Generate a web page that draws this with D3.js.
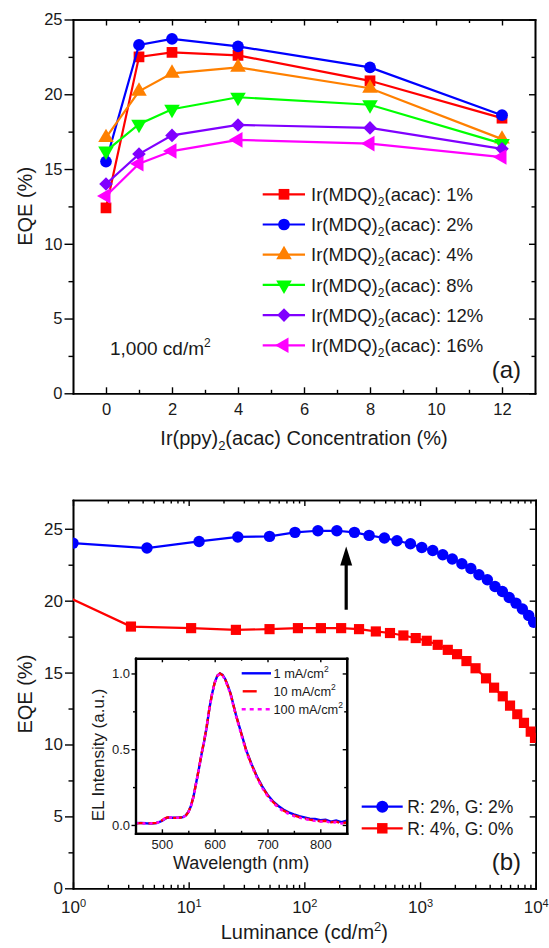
<!DOCTYPE html>
<html><head><meta charset="utf-8">
<script src="https://cdn.jsdelivr.net/npm/d3@7"></script>
<style>body{margin:0;background:#fff}</style>
</head><body><script>
// ---------- DATA ----------
// Panel (a)
const concentration = [0, 1, 2, 4, 8, 12];
const eqeMDQ1  = [12.4, 22.5, 22.8, 22.6, 20.9, 18.4];
const eqeMDQ2  = [15.5, 23.3, 23.7, 23.2, 21.8, 18.6];
const eqeMDQ4  = [17.1, 20.2, 21.4, 21.8, 20.4, 17.0];
const eqeMDQ8  = [16.2, 18.0, 19.0, 19.8, 19.3, 16.7];
const eqeMDQ12 = [14.0, 16.0, 17.25, 17.95, 17.75, 16.35];
const eqeMDQ16 = [13.2, 15.35, 16.2, 16.95, 16.7, 15.8];
const legendA = ["1%", "2%", "4%", "8%", "12%", "16%"];
const xTicksA = [0, 2, 4, 6, 8, 10, 12];
const xMinorA = [1, 3, 5, 7, 9, 11];
const yTicksA = [0, 5, 10, 15, 20, 25];
const yMinorA = [2.5, 7.5, 12.5, 17.5, 22.5];

// Panel (b)
const luminanceR2G2 = [1, 4.36, 12.3, 26.6, 50, 83, 131, 191, 271, 363, 492, 632, 826, 1036, 1288, 1572, 1900, 2300, 2750, 3230, 3820, 4450, 5150, 5900, 6750, 7670, 8700, 9600];
const eqeR2G2 = [24.0, 23.66, 24.12, 24.43, 24.47, 24.75, 24.86, 24.86, 24.75, 24.54, 24.36, 24.17, 23.96, 23.7, 23.49, 23.19, 22.9, 22.57, 22.24, 21.8, 21.45, 20.99, 20.64, 20.22, 19.83, 19.42, 18.97, 18.5];
const luminanceR4G0 = [0.9, 3.17, 10.5, 25.6, 50, 88, 139, 208, 297, 415, 550, 718, 918, 1143, 1422, 1738, 2090, 2520, 3020, 3720, 4370, 5190, 6000, 6930, 7920, 9060, 9860];
const eqeR4G0 = [20.25, 18.2, 18.09, 17.97, 18.02, 18.09, 18.09, 18.09, 18.02, 17.86, 17.75, 17.58, 17.4, 17.21, 16.93, 16.58, 16.28, 15.8, 15.3, 14.6, 13.95, 13.35, 12.7, 12.1, 11.5, 10.9, 10.45];
const legendB = ["R: 2%, G: 2%", "R: 4%, G: 0%"];
const xTicksB = [1, 10, 100, 1000, 10000];
const xMinorB = [2,3,4,5,6,7,8,9,20,30,40,50,60,70,80,90,200,300,400,500,600,700,800,900,2000,3000,4000,5000,6000,7000,8000,9000];
const yTicksB = [0, 5, 10, 15, 20, 25];
const yMinorB = [2.5, 7.5, 12.5, 17.5, 22.5];
const arrowLum = 230, arrowFrom = 19.37, arrowTo = 23.77;

// Inset EL spectra
const wavelength = [450,460,470,480,490,500,505,510,515,520,530,540,545,550,555,560,565,570,575,580,585,590,595,600,605,610,615,620,625,630,640,650,660,670,680,690,700,710,720,730,740,750,760,770,780,790,800,810,820,830,840,850];
const el1mA   = [0.012,0.013,0.011,0.010,0.013,0.026,0.038,0.048,0.050,0.048,0.048,0.052,0.062,0.085,0.125,0.19,0.28,0.37,0.465,0.55,0.65,0.77,0.865,0.94,0.985,1.0,0.99,0.962,0.918,0.868,0.73,0.61,0.49,0.4,0.32,0.255,0.2,0.158,0.127,0.102,0.083,0.07,0.058,0.05,0.042,0.04,0.032,0.034,0.022,0.03,0.018,0.028];
const el10mA  = [0.011,0.012,0.012,0.011,0.014,0.03,0.042,0.05,0.049,0.047,0.047,0.051,0.06,0.084,0.124,0.19,0.28,0.37,0.47,0.555,0.655,0.77,0.865,0.94,0.985,1.0,0.988,0.96,0.915,0.865,0.728,0.607,0.487,0.396,0.316,0.25,0.196,0.153,0.12,0.095,0.078,0.063,0.052,0.045,0.035,0.03,0.025,0.028,0.018,0.022,0.012,0.016];
const el100mA = [0.013,0.011,0.01,0.011,0.013,0.028,0.04,0.049,0.05,0.049,0.048,0.05,0.061,0.083,0.122,0.188,0.278,0.368,0.465,0.553,0.652,0.768,0.862,0.938,0.983,0.998,0.985,0.955,0.91,0.86,0.722,0.6,0.48,0.39,0.31,0.245,0.19,0.148,0.115,0.09,0.073,0.058,0.048,0.04,0.032,0.027,0.022,0.024,0.015,0.018,0.01,0.012];
const legendInset = ["1 mA/cm", "10 mA/cm", "100 mA/cm"];
const xTicksI = [500, 600, 700, 800];
const xMinorI = [550, 650, 750];
const yTicksI = [0, 0.5, 1.0];
const yMinorI = [0.25, 0.75];

// ---------- DRAWING ----------
const FONT = '"Liberation Sans", Arial, Helvetica, sans-serif';
const INK = "#1a1a1a";
const svg = d3.select("body").append("svg").attr("width", 549).attr("height", 948)
  .style("font-family", FONT);

function styleAxis(g, fs) {
  g.attr("font-family", FONT).attr("font-size", fs);
  g.select(".domain").attr("stroke", "#000").attr("stroke-width", 1.6).attr("stroke-linecap", "square");
  g.selectAll(".tick line").attr("stroke", "#000").attr("stroke-width", 1.4);
  g.selectAll(".tick text").attr("fill", INK);
}
function frame(g, x, y, ticksX, minorX, ticksY, minorY, box, opts) {
  const fs = opts.fs, M = opts.major, m = opts.minor, pad = opts.pad;
  const b = g.append("g").attr("transform", `translate(0,${box.b})`)
    .call(d3.axisBottom(x).tickValues(ticksX).tickSizeInner(-M).tickSizeOuter(0).tickPadding(pad.b).tickFormat(opts.fmtX));
  styleAxis(b, fs);
  if (opts.afterX) opts.afterX(b);
  styleAxis(g.append("g").attr("transform", `translate(0,${box.b})`)
    .call(d3.axisBottom(x).tickValues(minorX).tickSizeInner(-m).tickSizeOuter(0).tickFormat("")), fs);
  styleAxis(g.append("g").attr("transform", `translate(0,${box.t})`)
    .call(d3.axisTop(x).tickValues(ticksX).tickSizeInner(-M).tickSizeOuter(0).tickFormat("")), fs);
  styleAxis(g.append("g").attr("transform", `translate(0,${box.t})`)
    .call(d3.axisTop(x).tickValues(minorX).tickSizeInner(-m).tickSizeOuter(0).tickFormat("")), fs);
  styleAxis(g.append("g").attr("transform", `translate(${box.l},0)`)
    .call(d3.axisLeft(y).tickValues(ticksY).tickSizeInner(opts.leftMajor).tickSizeOuter(0).tickPadding(pad.l).tickFormat(opts.fmtY)), fs);
  styleAxis(g.append("g").attr("transform", `translate(${box.l},0)`)
    .call(d3.axisLeft(y).tickValues(minorY).tickSizeInner(opts.leftMinor).tickSizeOuter(0).tickFormat("")), fs);
  styleAxis(g.append("g").attr("transform", `translate(${box.r},0)`)
    .call(d3.axisRight(y).tickValues(ticksY).tickSizeInner(-M).tickSizeOuter(0).tickFormat("")), fs);
  styleAxis(g.append("g").attr("transform", `translate(${box.r},0)`)
    .call(d3.axisRight(y).tickValues(minorY).tickSizeInner(-m).tickSizeOuter(0).tickFormat("")), fs);
}
function marker(g, kind, x, y, color, scale) {
  const s = scale || 1;
  let type = d3.symbolSquare, size = 115, rot = 0;
  if (kind === "circle") { type = d3.symbolCircle; size = 108; }
  if (kind === "triUp") { type = d3.symbolTriangle; size = 105; }
  if (kind === "triDown") { type = d3.symbolTriangle; size = 105; rot = 180; }
  if (kind === "diamond") { type = d3.symbolSquare; size = 92; rot = 45; }
  if (kind === "triLeft") { type = d3.symbolTriangle; size = 105; rot = -90; }
  g.append("path").attr("d", d3.symbol(type, size * s)())
    .attr("transform", `translate(${x},${y}) rotate(${rot})`).attr("fill", color);
}

// ===== Panel (a) =====
const A = {l: 73, r: 535, t: 19.5, b: 393.3};
const xA = d3.scaleLinear([-1, 13], [A.l, A.r]);
const yA = d3.scaleLinear([0, 25], [A.b, A.t]);
const gA = svg.append("g");
frame(gA, xA, yA, xTicksA, xMinorA, yTicksA, yMinorA, A,
  {fs: 16.5, major: 6, minor: 3.5, leftMajor: 8.5, leftMinor: 4.5, pad: {b: 10, l: 2},
   fmtX: d3.format("d"), fmtY: d3.format("d")});

const seriesA = [
  {vals: eqeMDQ1, color: "#ff0000", kind: "square"},
  {vals: eqeMDQ2, color: "#0000ff", kind: "circle"},
  {vals: eqeMDQ4, color: "#ff8000", kind: "triUp"},
  {vals: eqeMDQ8, color: "#00ff00", kind: "triDown"},
  {vals: eqeMDQ12, color: "#8000ff", kind: "diamond"},
  {vals: eqeMDQ16, color: "#ff00ff", kind: "triLeft"}
];
const lineA = d3.line().x(d => xA(d[0])).y(d => yA(d[1]));
seriesA.forEach(s => {
  const pts = concentration.map((c, i) => [c, s.vals[i]]);
  gA.append("path").attr("d", lineA(pts)).attr("fill", "none").attr("stroke", s.color).attr("stroke-width", 2.2);
  pts.forEach(p => marker(gA, s.kind, xA(p[0]), yA(p[1]), s.color));
});
seriesA.forEach((s, i) => {
  const yy = 194.3 + i * 30.2;
  gA.append("line").attr("x1", 262.7).attr("x2", 305).attr("y1", yy).attr("y2", yy)
    .attr("stroke", s.color).attr("stroke-width", 2.2);
  marker(gA, s.kind, 284, yy, s.color);
  const t = gA.append("text").attr("x", 311).attr("y", yy + 6.6).attr("font-size", 18.5).attr("fill", INK);
  t.append("tspan").text("Ir(MDQ)");
  t.append("tspan").attr("font-size", 12).attr("dy", 5).text("2");
  t.append("tspan").attr("dy", -5).text("(acac): " + legendA[i]);
});
{
  const t = gA.append("text").attr("x", 110).attr("y", 355).attr("font-size", 19).attr("fill", INK);
  t.append("tspan").text("1,000 cd/m");
  t.append("tspan").attr("font-size", 12).attr("dy", -8).text("2");
}
gA.append("text").attr("x", 521).attr("y", 378).attr("text-anchor", "end").attr("font-size", 24).attr("fill", INK).text("(a)");
{
  const t = gA.append("text").attr("x", (A.l + A.r) / 2).attr("y", 445).attr("text-anchor", "middle").attr("font-size", 20).attr("fill", INK);
  t.append("tspan").text("Ir(ppy)");
  t.append("tspan").attr("font-size", 13).attr("dy", 5).text("2");
  t.append("tspan").attr("dy", -5).text("(acac) Concentration (%)");
}
gA.append("text").attr("transform", `translate(32,${(A.t + A.b) / 2}) rotate(-90)`).attr("text-anchor", "middle")
  .attr("font-size", 20).attr("fill", INK).text("EQE (%)");

// ===== Panel (b) =====
const B = {l: 73, r: 535.7, t: 500, b: 888.3};
const xB = d3.scaleLog([1, 10000], [B.l, B.r]);
const yB = d3.scaleLinear([0, 27], [B.b, B.t]);
const gB = svg.append("g");
frame(gB, xB, yB, xTicksB, xMinorB, yTicksB, yMinorB, B,
  {fs: 17, major: 6, minor: 3.5, leftMajor: 8, leftMinor: 4.5, pad: {b: 12.5, l: 2},
   fmtX: () => "10", fmtY: d3.format("d"),
   afterX: g => g.selectAll(".tick text").each(function(d) {
     d3.select(this).append("tspan").attr("font-size", 11).attr("dy", "-0.55em").text(Math.round(Math.log10(d)));
   })});
svg.append("clipPath").attr("id", "clipB").append("rect")
  .attr("x", B.l).attr("y", B.t).attr("width", B.r - B.l).attr("height", B.b - B.t);
const gData = gB.append("g").attr("clip-path", "url(#clipB)");
const lineB = d3.line().x(d => xB(d[0])).y(d => yB(d[1]));
const seriesB = [
  {lum: luminanceR2G2, vals: eqeR2G2, color: "#0000ff", kind: "circle"},
  {lum: luminanceR4G0, vals: eqeR4G0, color: "#ff0000", kind: "square"}
];
seriesB.forEach(s => {
  const pts = s.lum.map((l, i) => [l, s.vals[i]]);
  gData.append("path").attr("d", lineB(pts)).attr("fill", "none").attr("stroke", s.color).attr("stroke-width", 2.2);
  pts.forEach(p => marker(gData, s.kind, xB(p[0]), yB(p[1]), s.color, s.kind === "circle" ? 0.95 : 0.9));
});
{
  const ax = xB(arrowLum), y0 = yB(arrowFrom), y1 = yB(arrowTo);
  gB.append("line").attr("x1", ax).attr("x2", ax).attr("y1", y0).attr("y2", y1 + 16)
    .attr("stroke", "#000").attr("stroke-width", 3.2);
  gB.append("path").attr("d", `M${ax},${y1} L${ax - 6},${y1 + 19} L${ax + 6},${y1 + 19} Z`).attr("fill", "#000");
}
seriesB.forEach((s, i) => {
  const yy = 806.7 + i * 21.6;
  gB.append("line").attr("x1", 361.7).attr("x2", 402.7).attr("y1", yy).attr("y2", yy)
    .attr("stroke", s.color).attr("stroke-width", 2.2);
  marker(gB, s.kind, 382.3, yy, s.color, s.kind === "circle" ? 1.05 : 0.95);
  gB.append("text").attr("x", 407.3).attr("y", yy + 6.3).attr("font-size", 17.5).attr("fill", INK).text(legendB[i]);
});
gB.append("text").attr("x", 521).attr("y", 870).attr("text-anchor", "end").attr("font-size", 24).attr("fill", INK).text("(b)");
{
  const t = gB.append("text").attr("x", (B.l + B.r) / 2).attr("y", 939).attr("text-anchor", "middle").attr("font-size", 20).attr("fill", INK);
  t.append("tspan").text("Luminance (cd/m");
  t.append("tspan").attr("font-size", 13).attr("dy", -8).text("2");
  t.append("tspan").attr("dy", 8).text(")");
}
gB.append("text").attr("transform", `translate(32,${(B.t + B.b) / 2}) rotate(-90)`).attr("text-anchor", "middle")
  .attr("font-size", 20).attr("fill", INK).text("EQE (%)");

// ===== Inset =====
const I = {l: 135.5, r: 346.7, t: 658.3, b: 833.3};
const xI = d3.scaleLinear([450, 850], [I.l, I.r]);
const yI = d3.scaleLinear([-0.055, 1.1], [I.b, I.t]);
const gI = svg.append("g");
gI.append("rect").attr("x", I.l).attr("y", I.t).attr("width", I.r - I.l).attr("height", I.b - I.t).attr("fill", "#fff");
svg.append("clipPath").attr("id", "clipI").append("rect")
  .attr("x", I.l).attr("y", I.t).attr("width", I.r - I.l).attr("height", I.b - I.t);
const gIData = gI.append("g").attr("clip-path", "url(#clipI)");
const lineI = d3.line().x(d => xI(d[0])).y(d => yI(d[1]));
const seriesI = [
  {vals: el1mA, color: "#0000ff", dash: null},
  {vals: el10mA, color: "#ff0000", dash: "9,4"},
  {vals: el100mA, color: "#ff00ff", dash: "3,4"}
];
seriesI.forEach(s => {
  gIData.append("path").attr("d", lineI(wavelength.map((w, i) => [w, s.vals[i]])))
    .attr("fill", "none").attr("stroke", s.color).attr("stroke-width", 2.4)
    .attr("stroke-dasharray", s.dash);
});
frame(gI, xI, yI, xTicksI, xMinorI, yTicksI, yMinorI, I,
  {fs: 13, major: 4, minor: 2.5, leftMajor: 4, leftMinor: 2.5, pad: {b: 6, l: 1.5},
   fmtX: d3.format("d"), fmtY: d3.format(".1f")});
gI.selectAll(".domain").attr("stroke-width", 2.2);
seriesI.forEach((s, i) => {
  const yy = 673.3 + i * 18;
  gI.append("line").attr("x1", 241.7).attr("x2", 271).attr("y1", yy).attr("y2", yy)
    .attr("stroke", s.color).attr("stroke-width", 2.4).attr("stroke-dasharray", s.dash ? (i === 1 ? "14,20" : "4,4") : null)
    .attr("stroke-dashoffset", i === 1 ? -1 : 0);
  const t = gI.append("text").attr("x", 273.5).attr("y", yy + 4.6).attr("font-size", 12.8).attr("fill", INK);
  t.append("tspan").text(legendInset[i]);
  t.append("tspan").attr("font-size", 8.5).attr("dy", -5.5).text("2");
});
gI.append("text").attr("x", (I.l + I.r) / 2).attr("y", 869).attr("text-anchor", "middle").attr("font-size", 18).attr("fill", INK).text("Wavelength (nm)");
gI.append("text").attr("transform", `translate(104,755) rotate(-90)`).attr("text-anchor", "middle")
  .attr("font-size", 17).attr("fill", INK).text("EL Intensity (a.u.)");
</script></body></html>
